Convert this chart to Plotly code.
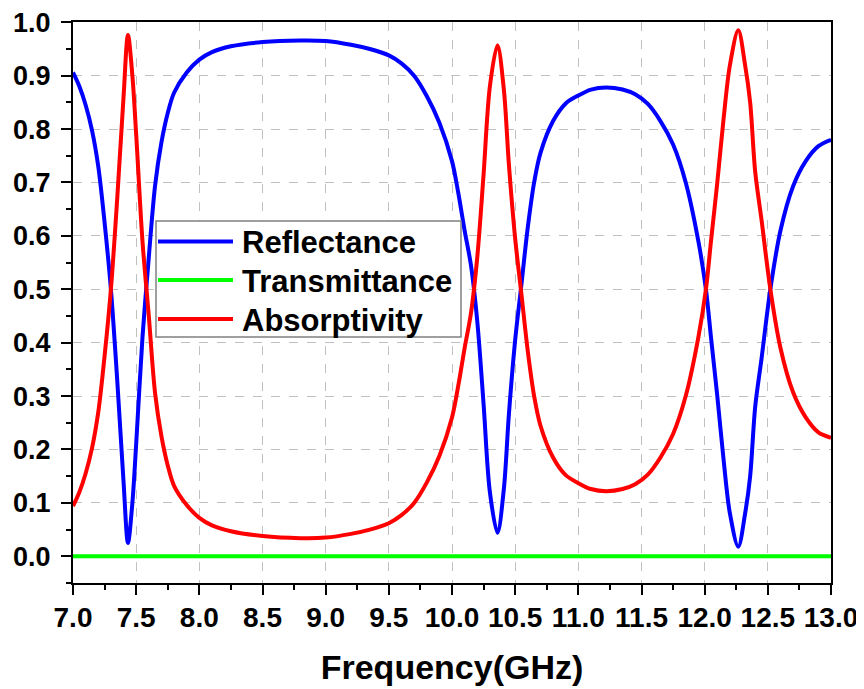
import plotly.graph_objects as go

# Frequencies (GHz) at which the curves were read
freq = [7.00, 7.05, 7.10, 7.15, 7.20, 7.25, 7.30, 7.35, 7.40, 7.435, 7.47, 7.50, 7.55, 7.60, 7.65,
        7.70, 7.75, 7.80, 7.90, 8.00, 8.10, 8.25, 8.50, 8.80, 9.00, 9.20, 9.35, 9.50, 9.60, 9.70,
        9.80, 9.90, 10.00, 10.05, 10.10, 10.15, 10.20, 10.25, 10.30, 10.36, 10.41, 10.45, 10.50,
        10.55, 10.60, 10.65, 10.70, 10.80, 10.90, 11.00, 11.10, 11.22, 11.35, 11.45, 11.55, 11.65,
        11.75, 11.85, 11.95, 12.01, 12.05, 12.10, 12.15, 12.20, 12.266, 12.32, 12.36, 12.40, 12.45,
        12.52, 12.60, 12.70, 12.80, 12.90, 13.00]

# Reflectance (blue)
reflectance = [0.906, 0.880, 0.845, 0.798, 0.730, 0.625, 0.500, 0.330, 0.140, 0.025, 0.100, 0.210, 0.410, 0.560, 0.695,
               0.775, 0.830, 0.868, 0.906, 0.930, 0.944, 0.955, 0.963, 0.966, 0.965, 0.958, 0.950, 0.938, 0.923, 0.900,
               0.862, 0.812, 0.740, 0.680, 0.610, 0.545, 0.440, 0.285, 0.120, 0.044, 0.125, 0.265, 0.405,
               0.510, 0.616, 0.700, 0.755, 0.815, 0.848, 0.863, 0.874, 0.878, 0.874, 0.865, 0.847, 0.815,
               0.771, 0.700, 0.590, 0.500, 0.410, 0.300, 0.180, 0.080, 0.018, 0.080, 0.150, 0.280, 0.370,
               0.500, 0.610, 0.693, 0.740, 0.768, 0.780]

# Transmittance (green)
transmittance = [0.0] * len(freq)

# Absorptivity (red)
absorptivity = [0.094, 0.120, 0.155, 0.202, 0.270, 0.375, 0.500, 0.670, 0.860, 0.976, 0.900, 0.790, 0.590, 0.450, 0.305,
                0.225, 0.170, 0.132, 0.096, 0.072, 0.058, 0.047, 0.038, 0.034, 0.035, 0.042, 0.050, 0.062, 0.077, 0.100,
                0.138, 0.188, 0.260, 0.320, 0.390, 0.455, 0.560, 0.715, 0.880, 0.957, 0.875, 0.735, 0.595,
                0.490, 0.384, 0.300, 0.245, 0.185, 0.152, 0.137, 0.126, 0.122, 0.126, 0.135, 0.153, 0.185,
                0.229, 0.300, 0.410, 0.500, 0.590, 0.700, 0.820, 0.920, 0.985, 0.920, 0.850, 0.720, 0.630,
                0.500, 0.390, 0.307, 0.260, 0.232, 0.222]

series_names = ["Reflectance", "Transmittance", "Absorptivity"]
series_colors = ["#0000ff", "#00ff00", "#ff0000"]

FONT = "Arial"
# the page body adds an 8 px offset, so the figure is 8 px smaller and margins compensate
OFF = 8
W, H = 864 - OFF, 689 - OFF
L, R, T, B = 73 - OFF, 33, 22 - OFF, 106
PW, PH = W - L - R, H - T - B


def px2x(px):
    return (px - OFF - L) / PW


def px2y(py):
    return (H - B - (py - OFF)) / PH


fig = go.Figure()
fig.add_trace(go.Scatter(x=freq, y=reflectance, mode="lines", name=series_names[0],
                         line=dict(color=series_colors[0], width=4, shape="spline", smoothing=0.9)))
fig.add_trace(go.Scatter(x=freq, y=transmittance, mode="lines", name=series_names[1],
                         line=dict(color=series_colors[1], width=4)))
fig.add_trace(go.Scatter(x=freq, y=absorptivity, mode="lines", name=series_names[2],
                         line=dict(color=series_colors[2], width=4, shape="spline", smoothing=0.9)))

# legend drawn by hand to match the long legend lines of the original
shapes = [dict(type="rect", xref="paper", yref="paper",
               x0=px2x(156), x1=px2x(461), y0=px2y(337), y1=px2y(221),
               line=dict(color="#808080", width=1.5), fillcolor="white", layer="above")]
annotations = []
row_y = [241.5, 280, 319]
for name, col, ry in zip(series_names, series_colors, row_y):
    shapes.append(dict(type="line", xref="paper", yref="paper",
                       x0=px2x(158), x1=px2x(233), y0=px2y(ry), y1=px2y(ry),
                       line=dict(color=col, width=4), layer="above"))
    annotations.append(dict(xref="paper", yref="paper", x=px2x(240), y=px2y(ry + 1),
                            xanchor="left", yanchor="middle", showarrow=False,
                            text=name, font=dict(family=FONT, size=31, weight="bold", color="black")))

fig.update_layout(
    width=W, height=H,
    margin=dict(l=L, r=R, t=T, b=B, autoexpand=False),
    paper_bgcolor="white", plot_bgcolor="white",
    font=dict(family=FONT, color="black"),
    showlegend=False,
    shapes=shapes, annotations=annotations,
)

fig.update_xaxes(
    range=[7.0, 13.0], dtick=0.5, tick0=7.0, tickformat=".1f", automargin=False,
    showline=True, linecolor="black", linewidth=2, mirror=True,
    ticks="outside", ticklen=10, tickwidth=2, tickcolor="black",
    minor=dict(dtick=0.25, ticklen=5, tickwidth=2, tickcolor="black", ticks="outside", showgrid=False),
    showgrid=True, gridcolor="#c0c0c0", gridwidth=1, griddash="dash",
    zeroline=False,
    tickfont=dict(family=FONT, size=28, weight="bold"),
    ticklabelstandoff=-2, ticklabeloverflow="allow",
    title=dict(text="Frequency(GHz)", font=dict(family=FONT, size=34, weight="bold"), standoff=24),
)
fig.update_yaxes(
    range=[-0.05, 1.0005], dtick=0.1, tick0=0.0, tickformat=".1f", automargin=False,
    showline=True, linecolor="black", linewidth=2, mirror=True,
    ticks="outside", ticklen=10, tickwidth=2, tickcolor="black",
    minor=dict(dtick=0.05, ticklen=5, tickwidth=2, tickcolor="black", ticks="outside", showgrid=False),
    showgrid=True, gridcolor="#c0c0c0", gridwidth=1, griddash="dash",
    zeroline=False,
    tickfont=dict(family=FONT, size=27, weight="bold"),
    ticklabelstandoff=5, ticklabeloverflow="allow",
)

fig.write_html("out.html")
